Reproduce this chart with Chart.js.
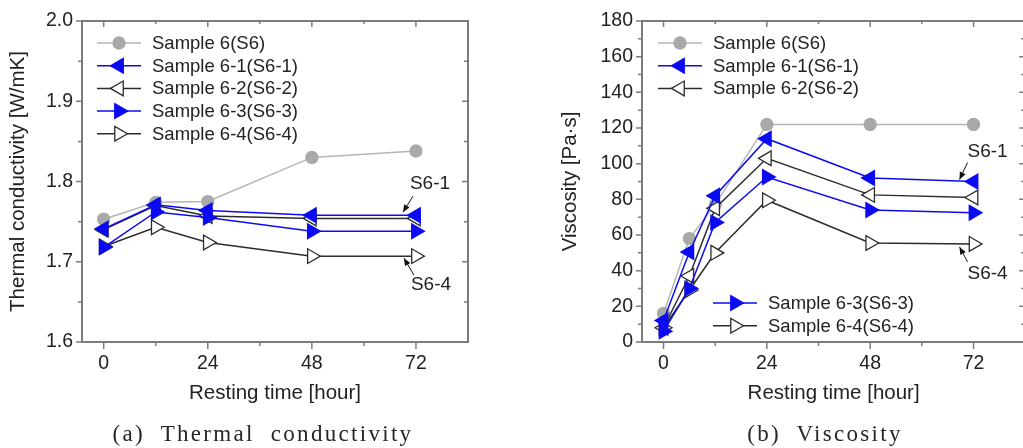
<!DOCTYPE html>
<html>
<head>
<meta charset="utf-8">
<script src="https://cdn.jsdelivr.net/npm/chart.js@4.4.0/dist/chart.umd.min.js"></script>
<style>
    html, body { margin: 0; padding: 0; background: #fff; width: 1023px; height: 448px; overflow: hidden; }
    #leftBox { position: absolute; left: 0; top: 0; width: 500px; height: 448px; }
    #rightBox { position: absolute; left: 500px; top: 0; width: 535px; height: 448px; }
    .cap { position: absolute; top: 421px; width: 400px; text-align: center; white-space: pre; line-height: 26px;
           font-family: "Liberation Serif", "DejaVu Serif", serif; font-size: 23px; letter-spacing: 2.3px; color: #262626; }
</style>
</head>
<body>
<div id="leftBox"><canvas id="tcChart"></canvas></div>
<div id="rightBox"><canvas id="visChart"></canvas></div>
<div class="cap" style="left:63px">(a)  Thermal  conductivity</div>
<div class="cap" style="left:625px">(b)  Viscosity</div>

<script>
// === Data ===
const seriesNames = ['Sample 6(S6)', 'Sample 6-1(S6-1)', 'Sample 6-2(S6-2)', 'Sample 6-3(S6-3)', 'Sample 6-4(S6-4)'];

// (a) thermal conductivity [W/mK]
const hoursTC = [0, 12, 24, 48, 72];
const tcS6  = [1.753, 1.774, 1.775, 1.830, 1.838];
const tcS61 = [1.741, 1.771, 1.764, 1.758, 1.758];
const tcS62 = [1.740, 1.770, 1.757, 1.754, 1.754];
const tcS63 = [1.718, 1.762, 1.755, 1.738, 1.738];
const tcS64 = [1.719, 1.743, 1.724, 1.707, 1.707];

// (b) viscosity [Pa·s]
const hoursVis = [0, 6, 12, 24, 48, 72];
const visS6  = [16, 58, 77, 122, 122, 122];
const visS61 = [12, 50.5, 82, 114, 92, 90];
const visS62 = [8, 37, 75, 103, 82.5, 81];
const visS63 = [6, 30, 67, 92.5, 74, 72.5];
const visS64 = [8, 29, 50, 79.5, 55.5, 55];

// tick values
const xMajor = [0, 24, 48, 72];
const xMinor = [12, 36, 60];
const tcMajor = [1.6, 1.7, 1.8, 1.9, 2.0];
const tcMinor = [1.65, 1.75, 1.85, 1.95];
const visMajor = [0, 20, 40, 60, 80, 100, 120, 140, 160, 180];
const visMinor = [10, 30, 50, 70, 90, 110, 130, 150, 170];

// === Styles ===
const SANS = '"Liberation Sans", Arial, sans-serif';
const TEXT = '#222';
const FRAME = '#7c7c7c';
const GRAY = '#a9a9a9';
const BLUE = '#0b0bf2';
const BLACK = '#2c2c2c';

// marker style for each series (S6, S6-1 ... S6-4)
const looks = [
    { line: '#b5b5b5', border: GRAY, fill: GRAY, style: 'circle', rot: 0, r: 6, order: 5 },
    { line: BLUE, border: BLUE, fill: BLUE, style: 'triangle', rot: 270, r: 8.5, order: 2 },
    { line: BLACK, border: BLACK, fill: '#fff', style: 'triangle', rot: 270, r: 8.5, order: 4 },
    { line: BLUE, border: BLUE, fill: BLUE, style: 'triangle', rot: 90, r: 8.5, order: 1 },
    { line: BLACK, border: BLACK, fill: '#fff', style: 'triangle', rot: 90, r: 8.5, order: 3 }
];

function makeDatasets(xs, ys) {
    return ys.map((vals, i) => ({
        label: seriesNames[i],
        data: xs.map((x, k) => ({ x: x, y: vals[k] })),
        borderColor: looks[i].line,
        borderWidth: 1.5,
        pointStyle: looks[i].style,
        pointRotation: looks[i].rot,
        pointRadius: looks[i].r,
        pointBorderColor: looks[i].border,
        pointBackgroundColor: looks[i].fill,
        pointBorderWidth: 1.3,
        order: looks[i].order,
        tension: 0
    }));
}

// === Draw a legend marker the same way the points look ===
function drawMarker(ctx, ds, x, y) {
    ctx.save();
    ctx.lineWidth = ds.pointBorderWidth;
    ctx.strokeStyle = ds.pointBorderColor;
    ctx.fillStyle = ds.pointBackgroundColor;
    ctx.beginPath();
    const r = ds.pointRadius;
    if (ds.pointStyle === 'circle') {
        ctx.arc(x, y, r, 0, Math.PI * 2);
    } else {
        const a = ds.pointRotation * Math.PI / 180;
        for (let k = 0; k < 3; k++) {
            const t = a + k * 2 * Math.PI / 3;
            const px = x + Math.sin(t) * r, py = y - Math.cos(t) * r;
            if (k === 0) ctx.moveTo(px, py); else ctx.lineTo(px, py);
        }
        ctx.closePath();
    }
    ctx.fill();
    ctx.stroke();
    ctx.restore();
}

// === Plugin: box frame with in/out ticks, split legends, arrow labels ===
const sketchPlugin = {
    id: 'sketch',
    afterDraw(chart, args, opts) {
        const ctx = chart.ctx;
        const { left, right, top, bottom } = chart.chartArea;
        const xs = chart.scales.x, ys = chart.scales.y;

        // frame
        ctx.save();
        ctx.strokeStyle = FRAME;
        ctx.lineWidth = 2;
        ctx.strokeRect(left, top, right - left, bottom - top);
        ctx.lineWidth = 1.5;
        ctx.beginPath();
        const tickX = (v, len) => {
            const p = xs.getPixelForValue(v);
            ctx.moveTo(p, bottom); ctx.lineTo(p, bottom + len);   // outward, bottom
            ctx.moveTo(p, top); ctx.lineTo(p, top + len - 1);     // inward, top
        };
        const tickY = (v, len) => {
            const p = ys.getPixelForValue(v);
            ctx.moveTo(left, p); ctx.lineTo(left - len, p);       // outward, left
            ctx.moveTo(right, p); ctx.lineTo(right - len, p);     // inward, right
        };
        xMajor.forEach(v => tickX(v, 7));
        xMinor.forEach(v => tickX(v, 4));
        opts.yMajor.forEach(v => tickY(v, 6));
        opts.yMinor.forEach(v => tickY(v, 4));
        ctx.stroke();
        ctx.restore();

        // legends
        ctx.save();
        ctx.font = '18.5px ' + SANS;
        ctx.fillStyle = TEXT;
        ctx.textBaseline = 'middle';
        opts.legends.forEach(g => {
            g.items.forEach((idx, row) => {
                const ds = chart.data.datasets[idx];
                const y = (g.fromBottom ? bottom : top) + g.dy + row * 22.7;
                const x0 = left + g.dx;
                ctx.strokeStyle = ds.borderColor;
                ctx.lineWidth = 1.5;
                ctx.beginPath();
                ctx.moveTo(x0, y); ctx.lineTo(x0 + 44, y);
                ctx.stroke();
                drawMarker(ctx, ds, x0 + 22, y);
                ctx.fillText(ds.label, x0 + 55, y + 1);
            });
        });
        ctx.restore();

        // arrow labels pointing to the 72 h points
        ctx.save();
        ctx.font = '19px ' + SANS;
        ctx.fillStyle = TEXT;
        ctx.strokeStyle = '#111';
        ctx.textAlign = 'center';
        ctx.textBaseline = 'middle';
        opts.notes.forEach(n => {
            const pt = chart.getDatasetMeta(n.series).data[n.index];
            ctx.fillText(n.text, pt.x + n.tx, pt.y + n.ty);
            const sx = pt.x + n.sx, sy = pt.y + n.sy, ex = pt.x + n.ex, ey = pt.y + n.ey;
            ctx.lineWidth = 1;
            ctx.beginPath();
            ctx.moveTo(sx, sy); ctx.lineTo(ex, ey);
            ctx.stroke();
            const ang = Math.atan2(ey - sy, ex - sx);
            ctx.beginPath();
            ctx.moveTo(ex, ey);
            ctx.lineTo(ex - 8 * Math.cos(ang - 0.4), ey - 8 * Math.sin(ang - 0.4));
            ctx.lineTo(ex - 8 * Math.cos(ang + 0.4), ey - 8 * Math.sin(ang + 0.4));
            ctx.closePath();
            ctx.fillStyle = '#111';
            ctx.fill();
            ctx.fillStyle = TEXT;
        });
        ctx.restore();
    }
};

// === Shared chart config ===
function makeChart(canvasId, datasets, y, yTitle, yWidth, yTitlePad, padRight, sketch) {
    const ctx = document.getElementById(canvasId).getContext('2d');
    return new Chart(ctx, {
        type: 'line',
        data: { datasets: datasets },
        plugins: [sketchPlugin],
        options: {
            responsive: true,
            maintainAspectRatio: false,
            animation: false,
            layout: { padding: { left: 0, right: padRight, top: 21, bottom: 36 } },
            plugins: { legend: { display: false }, tooltip: { enabled: false }, sketch: sketch },
            scales: {
                x: {
                    type: 'linear', min: -5, max: 84,
                    afterBuildTicks: s => { s.ticks = xMajor.map(v => ({ value: v })); },
                    afterFit: s => { s.height = 70; },
                    grid: { display: false, drawTicks: false },
                    border: { display: false },
                    ticks: { font: { family: SANS, size: 19.5 }, color: TEXT, padding: 10 },
                    title: { display: true, text: 'Resting time [hour]', color: TEXT,
                             font: { family: SANS, size: 20.5 }, padding: { top: 0, bottom: 6 } }
                },
                y: {
                    type: 'linear', min: y.min, max: y.max,
                    afterBuildTicks: s => { s.ticks = y.ticks.map(v => ({ value: v })); },
                    afterFit: s => { s.width = yWidth; },
                    grid: { display: false, drawTicks: false },
                    border: { display: false },
                    ticks: { font: { family: SANS, size: 19.5 }, color: TEXT, padding: 9,
                             callback: v => y.fmt(v) },
                    title: { display: true, text: yTitle, color: TEXT,
                             font: { family: SANS, size: 20.5 }, padding: { top: yTitlePad, bottom: 0 } }
                }
            }
        }
    });
}

// (a) Thermal conductivity
makeChart('tcChart',
    makeDatasets(hoursTC, [tcS6, tcS61, tcS62, tcS63, tcS64]),
    { min: 1.6, max: 2.0, ticks: tcMajor, fmt: v => v.toFixed(1) },
    'Thermal conductivity [W/mK]', 82, 6, 32,
    {
        yMajor: tcMajor, yMinor: tcMinor,
        legends: [{ items: [0, 1, 2, 3, 4], dx: 15, dy: 22 }],
        notes: [
            { text: 'S6-1', series: 1, index: 4, tx: 14, ty: -31, sx: -3, sy: -19, ex: -13, ey: -3 },
            { text: 'S6-4', series: 4, index: 4, tx: 15, ty: 29, sx: -2, sy: 19, ex: -12, ey: 2 }
        ]
    });

// (b) Viscosity
makeChart('visChart',
    makeDatasets(hoursVis, [visS6, visS61, visS62, visS63, visS64]),
    { min: 0, max: 180, ticks: visMajor, fmt: v => String(v) },
    'Viscosity [Pa·s]', 142, 58, 8,
    {
        yMajor: visMajor, yMinor: visMinor,
        legends: [
            { items: [0, 1, 2], dx: 16, dy: 22 },
            { items: [3, 4], dx: 71, dy: -39, fromBottom: true }
        ],
        notes: [
            { text: 'S6-1', series: 1, index: 5, tx: 14, ty: -30, sx: -6, sy: -19, ex: -14, ey: -2 },
            { text: 'S6-4', series: 4, index: 5, tx: 14, ty: 30, sx: -6, sy: 18, ex: -14, ey: 3 }
        ]
    });
</script>
</body>
</html>
